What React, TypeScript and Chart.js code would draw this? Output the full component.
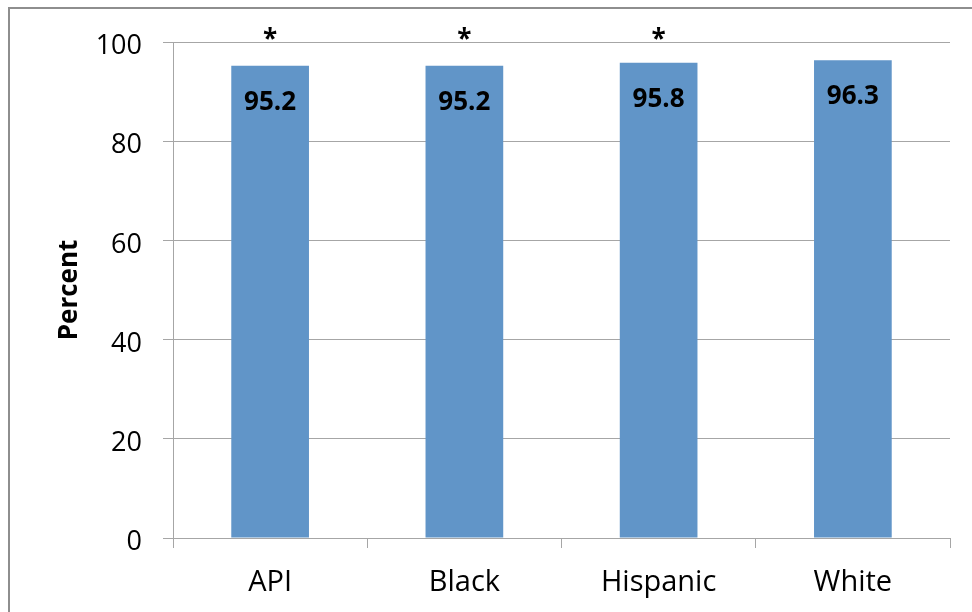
import React, { useEffect, useRef } from "react";
import { Chart, registerables } from "chart.js";

Chart.register(...registerables);

const categories: string[] = ["API", "Black", "Hispanic", "White"];
const percentValues: number[] = [95.2, 95.2, 95.8, 96.3];
const significant: boolean[] = [true, true, true, false];
const yTicks: number[] = [0, 20, 40, 60, 80, 100];

const FONT = "'Open Sans', 'Noto Sans', sans-serif";
const GRID = "#a6a6a6";
const BAR = "#6195c8";

const labelPlugin = {
  id: "valueLabels",
  afterDatasetsDraw(chart: any) {
    const ctx = chart.ctx;
    const meta = chart.getDatasetMeta(0);
    ctx.save();
    ctx.fillStyle = "#000000";
    ctx.textAlign = "center";
    meta.data.forEach((el: any, i: number) => {
      ctx.font = `bold 26px ${FONT}`;
      ctx.textBaseline = "middle";
      ctx.fillText(percentValues[i].toFixed(1), el.x, el.y + 36.5);
      if (significant[i]) {
        ctx.textBaseline = "alphabetic";
        ctx.fillText("*", el.x, chart.chartArea.top + 6);
      }
    });
    // y tick labels (drawn slightly below their gridlines, as in the original)
    const yScale = chart.scales.y;
    ctx.font = `27px ${FONT}`;
    ctx.textAlign = "right";
    ctx.textBaseline = "middle";
    yTicks.forEach((v) => {
      const py = yScale.getPixelForValue(v);
      ctx.fillText(String(v), yScale.right - 31, py + 4.5);
    });
    ctx.restore();
  },
};

export default function App() {
  const canvasRef = useRef<HTMLCanvasElement | null>(null);

  useEffect(() => {
    if (!canvasRef.current) return;
    const chart = new Chart(canvasRef.current, {
      type: "bar",
      data: {
        labels: categories,
        datasets: [
          {
            data: percentValues,
            backgroundColor: BAR,
            borderWidth: 0,
            categoryPercentage: 1,
            barPercentage: 0.4,
          },
        ],
      },
      options: {
        animation: false,
        responsive: false,
        maintainAspectRatio: false,
        devicePixelRatio: 1,
        layout: { padding: { left: 0, top: 42, right: 22, bottom: 0 } },
        plugins: {
          legend: { display: false },
          tooltip: { enabled: false },
        },
        scales: {
          x: {
            offset: true,
            grid: {
              display: true,
              drawOnChartArea: false,
              drawTicks: true,
              tickLength: 10,
              offset: true,
              color: GRID,
              lineWidth: 1,
            },
            border: { display: true, color: GRID, width: 1 },
            ticks: {
              color: "#000000",
              font: { family: FONT, size: 29 },
              padding: 17,
              maxRotation: 0,
            },
            afterFit(scale: any) {
              scale.height = 74;
            },
          },
          y: {
            min: 0,
            max: 100,
            afterBuildTicks(scale: any) {
              scale.ticks = yTicks.map((v) => ({ value: v }));
            },
            grid: {
              color: GRID,
              lineWidth: 1,
              drawTicks: true,
              tickLength: 10,
            },
            border: { display: true, color: GRID, width: 1 },
            ticks: {
              color: "rgba(0,0,0,0)",
              font: { family: FONT, size: 27 },
              padding: 21,
            },
            title: {
              display: true,
              text: "Percent",
              color: "#000000",
              font: { family: FONT, size: 26, weight: "bold" },
              padding: { top: 54, bottom: 0 },
            },
            afterFit(scale: any) {
              scale.width = 173;
            },
          },
        },
      },
      plugins: [labelPlugin],
    });
    return () => chart.destroy();
  }, []);

  return (
    <div style={{ position: "fixed", left: 0, top: 0, width: 972, height: 612, overflow: "hidden", background: "#ffffff" }}>
      <div
        style={{
          position: "absolute",
          left: 8,
          top: 7,
          width: 1200,
          height: 1200,
          borderLeft: "2px solid #8e8e8e",
          borderTop: "2px solid #8e8e8e",
        }}
      />
      <canvas ref={canvasRef} width={972} height={612} style={{ position: "absolute", left: 0, top: 0, width: 972, height: 612 }} />
    </div>
  );
}
